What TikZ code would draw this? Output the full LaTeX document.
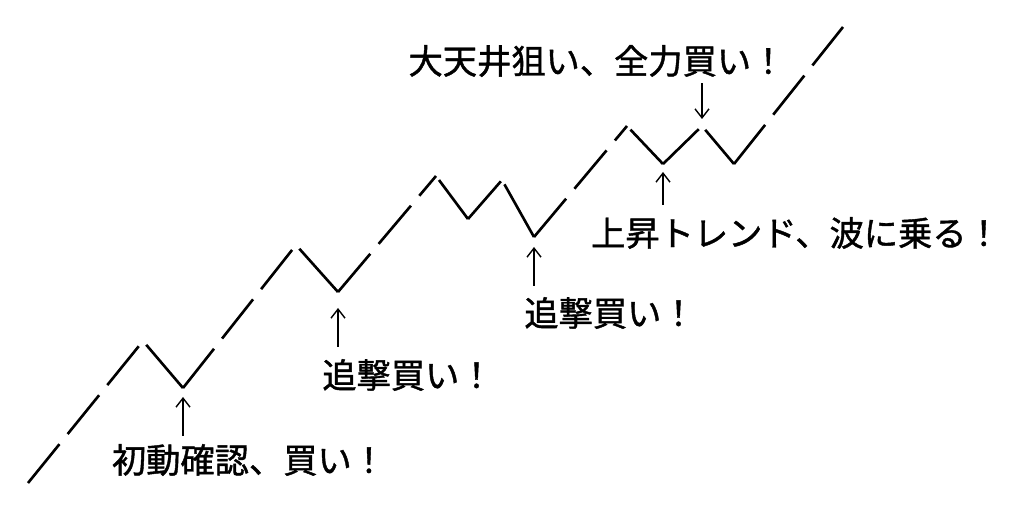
\documentclass[tikz,border=0pt]{standalone}
\usepackage{fontspec}
\setmainfont[FakeBold=1.2,AutoFakeBold=1.2]{Noto Sans CJK JP}
\usetikzlibrary{arrows.meta}

\begin{document}
\begin{tikzpicture}[
    x = 0.02cm,
    y = -0.02cm,
    trend/.style = {line width = 1.5pt, dash pattern = on 1cm off 0.26cm},
    dip/.style = {line width = 1.5pt, shorten <= 0.1cm},
    note/.style = {inner sep = 0pt, font = \fontsize{19.5pt}{22pt}\selectfont\bfseries},
    pointer/.style = {
        line width = 0.8pt,
        -{Straight Barb[length = 0.18cm, width = 0.28cm]}
    }
]

\useasboundingbox (0,0) rectangle (1024,506);

% turning points of the price line
\coordinate (s)  at (28,483);
\coordinate (p1) at (143,341);
\coordinate (v1) at (183,388);
\coordinate (p2) at (296,245);
\coordinate (v2) at (338,292);
\coordinate (p3) at (436,176);
\coordinate (v3) at (468,219);
\coordinate (p4) at (502,180);
\coordinate (v4) at (534,237);
\coordinate (p5) at (627,126);
\coordinate (v5) at (663,164);
\coordinate (p6) at (702,126);
\coordinate (v6) at (734,164);
\coordinate (e)  at (843,27);

\draw[trend] (s)  -- (p1);
\draw[dip]   (p1) -- (v1);
\draw[trend] (v1) -- (p2);
\draw[dip]   (p2) -- (v2);
\draw[trend] (v2) -- (p3);
\draw[dip]   (p3) -- (v3);
\draw[trend] (v3) -- (p4);
\draw[dip]   (p4) -- (v4);
\draw[trend] (v4) -- (p5);
\draw[dip]   (p5) -- (v5);
\draw[trend] (v5) -- (p6);
\draw[dip]   (p6) -- (v6);
\draw[trend] (v6) -- (e);

\node[note] (l1) at (249,460) {初動確認、買い！};
\node[note] (l2) at (408,375) {追撃買い！};
\node[note] (l3) at (610,313) {追撃買い！};
\node[note] (l4) at (796,233) {上昇トレンド、波に乗る！};
\node[note] (l5) at (597,61)  {大天井狙い、全力買い！};

\draw[pointer, shorten <= 0.16cm, shorten >= 0.18cm] (l1.north -| v1) -- (v1);
\draw[pointer, shorten <= 0.24cm, shorten >= 0.32cm] (l2.north -| v2) -- (v2);
\draw[pointer, shorten <= 0.22cm, shorten >= 0.2cm]  (l3.north -| v4) -- (v4);
\draw[pointer, shorten <= 0.24cm, shorten >= 0.16cm] (l4.north -| v5) -- (v5);
\draw[pointer, shorten <= 0.12cm, shorten >= 0.14cm] (l5.south -| p6) -- (p6);

\end{tikzpicture}
\end{document}
